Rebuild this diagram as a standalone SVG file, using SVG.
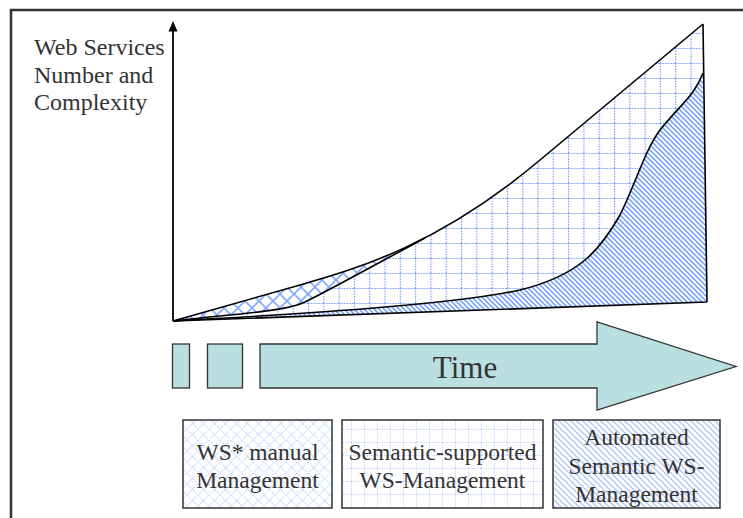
<svg xmlns="http://www.w3.org/2000/svg" width="743" height="518" viewBox="0 0 743 518">
<style>
.txt{font-family:"Liberation Serif","Times New Roman",serif;fill:#333}
.frame{stroke:#333;stroke-width:2.5;fill:none}
.curve{fill:none;stroke:#000;stroke-width:1.6;stroke-linejoin:round}
.box{stroke:#333;stroke-width:1.5}
.tarr{fill:#b9dfe1;stroke:#333;stroke-width:1.3}
</style>
<defs>
<pattern id="xh" patternUnits="userSpaceOnUse" width="14" height="14">
<path d="M0,0L14,14M14,0L0,14" stroke="#8aaeff" stroke-width="1.9" fill="none"/>
</pattern>
<pattern id="grid" patternUnits="userSpaceOnUse" x="2" y="3" width="15.3" height="15">
<path d="M0,0V15M0,0H15.3" stroke="#6d9af5" stroke-width="2.2" stroke-dasharray="1.5 1.2" fill="none"/>
</pattern>
<pattern id="hatch" patternUnits="userSpaceOnUse" width="5" height="5">
<path d="M-1,-1L6,6M-1,4L1,6M4,-1L6,1" stroke="#7fa6ff" stroke-width="1.7" fill="none"/>
</pattern>
<pattern id="xhL" patternUnits="userSpaceOnUse" width="11" height="11">
<path d="M0,0L11,11M11,0L0,11" stroke="#c0d3fa" stroke-width="1.2" stroke-dasharray="1.2 1" fill="none"/>
</pattern>
<pattern id="gridL" patternUnits="userSpaceOnUse" width="13" height="13">
<path d="M0,0V13M0,0H13" stroke="#a9c3f7" stroke-width="1.4" stroke-dasharray="1.2 1.2" fill="none"/>
</pattern>
<pattern id="hatchL" patternUnits="userSpaceOnUse" width="6" height="6">
<path d="M-1,-1L7,7M-1,5L1,7M5,-1L7,1" stroke="#b2c9f7" stroke-width="1.4" fill="none"/>
</pattern>
<clipPath id="under">
<path d="M173,321 L300,285 C360,268 440,244 540,160 L703,24 L707,302 Z"/>
</clipPath>
</defs>
<rect width="743" height="518" fill="#fff"/>
<g id="frame">
<path class="frame" d="M11,518V10H743"/>
</g>
<g id="chart">
<path d="M173,321 L300,285 C360,268 440,244 540,160 L703,24 L707,302 Z" fill="url(#grid)"/>
<path clip-path="url(#under)" d="M173,321 C230,314 285,312 305,302 C330,290 380,262 425,238 L425,100 L150,100 L150,321 Z" fill="#fff"/>
<path clip-path="url(#under)" d="M173,321 C230,314 285,312 305,302 C330,290 380,262 425,238 L425,100 L150,100 L150,321 Z" fill="url(#xh)"/>
<path d="M173,321 C300,314 450,305 520,290 C580,275 600,250 620,215 C635,185 645,150 660,130 C680,105 695,95 703,73 L707,302 Z" fill="#fff"/>
<path d="M173,321 C300,314 450,305 520,290 C580,275 600,250 620,215 C635,185 645,150 660,130 C680,105 695,95 703,73 L707,302 Z" fill="url(#hatch)"/>
<path class="curve" d="M173,321 L300,285 C360,268 440,244 540,160 L703,24"/>
<path class="curve" d="M173,321 C230,314 285,312 305,302 C330,290 380,262 425,238"/>
<path class="curve" stroke-width="1.3" d="M173,321 C300,314 450,305 520,290 C580,275 600,250 620,215 C635,185 645,150 660,130 C680,105 695,95 703,73"/>
<path class="curve" d="M173,321 L707,302 M703,24 L707,302"/>
</g>
<g id="connectors">
<path d="M173,321V30" stroke="#000" stroke-width="1.8" fill="none"/>
<polygon points="173,21 168.5,31.5 177.5,31.5" fill="#000"/>
</g>
<g id="axis-label">
<text class="txt" font-size="24" x="34" y="55">Web Services</text>
<text class="txt" font-size="24" x="34" y="83">Number and</text>
<text class="txt" font-size="24" x="34" y="110">Complexity</text>
</g>
<g id="time-arrow">
<rect class="tarr" x="172.5" y="344" width="17" height="44"/>
<rect class="tarr" x="207.5" y="344" width="35" height="44"/>
<path class="tarr" d="M260,344H597V322L736,366.5L597,410V388H260Z"/>
<text class="txt" font-size="31" x="465" y="378" text-anchor="middle">Time</text>
</g>
<g id="box-manual">
<rect class="box" x="183" y="420" width="149" height="88" fill="url(#xhL)"/>
<text class="txt" font-size="23.5" x="257.5" y="460" text-anchor="middle">WS* manual</text>
<text class="txt" font-size="23.5" x="257.5" y="488" text-anchor="middle">Management</text>
</g>
<g id="box-semantic">
<rect class="box" x="342" y="420" width="201" height="88" fill="url(#gridL)"/>
<text class="txt" font-size="23.5" x="442.5" y="460" text-anchor="middle">Semantic-supported</text>
<text class="txt" font-size="23.5" x="442.5" y="488" text-anchor="middle">WS-Management</text>
</g>
<g id="box-automated">
<rect class="box" x="553" y="420" width="167" height="88" fill="url(#hatchL)"/>
<text class="txt" font-size="23.5" x="636.5" y="445" text-anchor="middle">Automated</text>
<text class="txt" font-size="23.5" x="636.5" y="474" text-anchor="middle">Semantic WS-</text>
<text class="txt" font-size="23.5" x="636.5" y="502" text-anchor="middle">Management</text>
</g>
</svg>
